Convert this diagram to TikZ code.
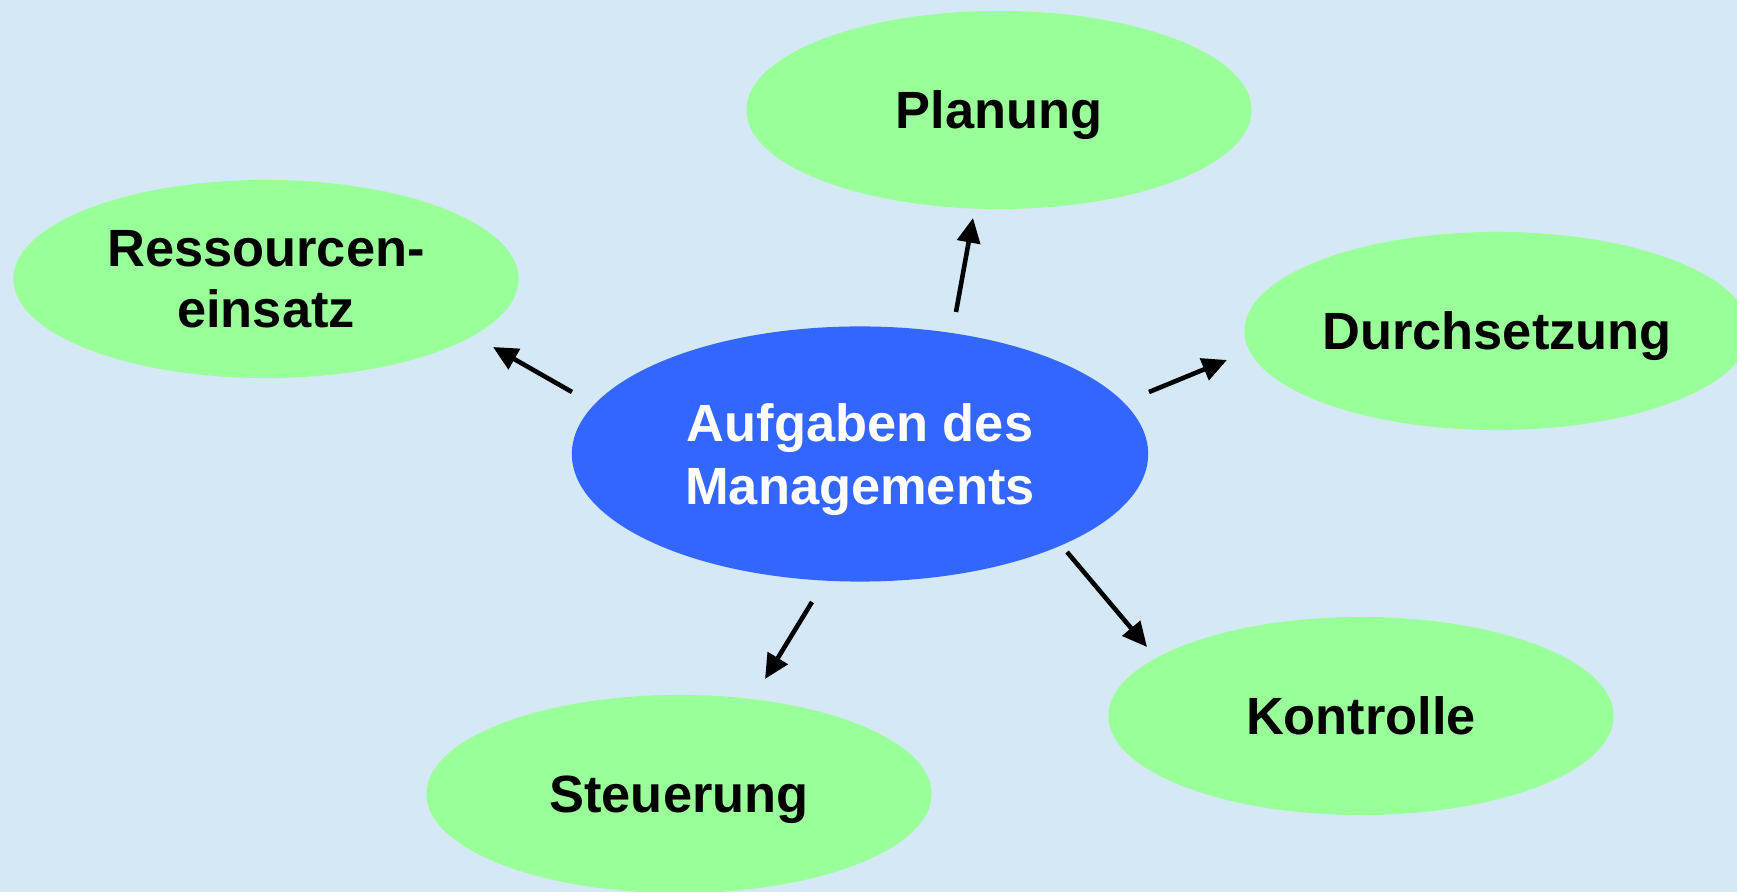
\documentclass[tikz,border=0pt]{standalone}
\usepackage{fontspec}
\setmainfont{Liberation Sans}
\usepackage{xcolor}
\usepackage{tikz}
\usetikzlibrary{shapes.geometric,arrows.meta}
\definecolor{hellblau}{HTML}{D5E8F6}
\definecolor{hellgruen}{HTML}{99FF99}
\definecolor{kraeftigblau}{HTML}{3366FF}
\begin{document}
\begin{tikzpicture}[x=0.01cm, y=-0.01cm,
  aufgabe/.style={ellipse, fill=hellgruen, inner sep=0pt, minimum width=5.05cm, minimum height=1.98cm, align=center, text depth=0pt, font=\fontsize{14.9}{17.6}\selectfont\bfseries},
  zentrum/.style={ellipse, fill=kraeftigblau, inner sep=0pt, minimum width=5.76cm, minimum height=2.55cm, align=center, text depth=0pt, text=white, font=\fontsize{14.9}{18}\selectfont\bfseries},
  pfeil/.style={line width=1.3pt, -{Triangle[length=7pt,width=6.5pt]}}]
\fill[hellblau] (0,0) rectangle (1737,892);
\useasboundingbox (0,0) rectangle (1737,892);
\node[aufgabe] (planung) at (999,110) {Planung};
\node[aufgabe] (ressourcen) at (266,279) {Ressourcen-\\einsatz};
\node[aufgabe] (durchsetzung) at (1497,331) {Durchsetzung};
\node[aufgabe] (kontrolle) at (1361,716) {Kontrolle};
\node[aufgabe] (steuerung) at (679,794) {Steuerung};
\node[zentrum] (management) at (860,454) {Aufgaben des\\Managements};
\coordinate (p1) at (956,312);  \coordinate (p2) at (973,218);
\coordinate (r1) at (572,392);  \coordinate (r2) at (493,347);
\coordinate (d1) at (1149,392); \coordinate (d2) at (1227,360);
\coordinate (k1) at (1067,552); \coordinate (k2) at (1147,647);
\coordinate (s1) at (812,602);  \coordinate (s2) at (765,679);
\draw[pfeil] (p1) -- (p2);
\draw[pfeil] (r1) -- (r2);
\draw[pfeil] (d1) -- (d2);
\draw[pfeil] (k1) -- (k2);
\draw[pfeil] (s1) -- (s2);
\end{tikzpicture}
\end{document}
